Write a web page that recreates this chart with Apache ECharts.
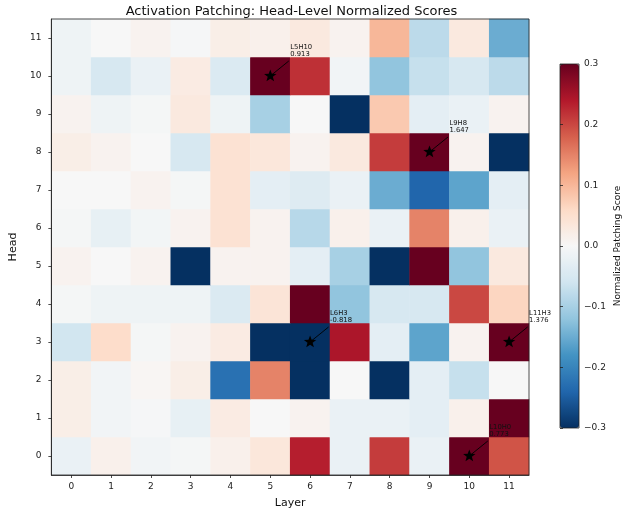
<!DOCTYPE html>
<html>
<head>
<meta charset="utf-8">
<script src="https://cdn.jsdelivr.net/npm/echarts@6/dist/echarts.min.js"></script>
<style>
html,body{margin:0;padding:0;background:#fff;}
#chart{width:628px;height:514px;}
</style>
</head>
<body>
<div id="chart"></div>
<script>
// ---- data ----
var layers = ['0','1','2','3','4','5','6','7','8','9','10','11'];
var heads  = ['0','1','2','3','4','5','6','7','8','9','10','11'];
// scores[head][layer]
var head0  = [-0.02, 0.015, -0.01, -0.005, 0.015, 0.035, 0.235, -0.02, 0.21, -0.02, 0.773, 0.19];
var head1  = [0.02, -0.01, -0.003, -0.025, 0.025, 0.0, 0.01, -0.02, -0.02, -0.03, 0.015, 0.35];
var head2  = [0.02, -0.01, 0.005, 0.02, -0.225, 0.15, -0.35, 0.0, -0.4, -0.03, -0.07, 0.0];
var head3  = [-0.058, 0.055, -0.005, 0.01, 0.025, -0.4, -0.818, 0.245, -0.03, -0.16, 0.01, 1.376];
var head4  = [-0.005, -0.015, -0.015, -0.015, -0.045, 0.04, 0.45, -0.12, -0.05, -0.05, 0.2, 0.065];
var head5  = [0.01, 0.0, 0.01, -0.4, 0.01, 0.01, -0.03, -0.1, -0.35, 0.4, -0.12, 0.03];
var head6  = [-0.005, -0.025, -0.008, 0.01, 0.045, 0.01, -0.085, 0.015, -0.02, 0.15, 0.015, -0.02];
var head7  = [0.0, 0.0, 0.01, -0.005, 0.045, -0.03, -0.04, -0.02, -0.15, -0.24, -0.16, -0.03];
var head8  = [0.02, 0.01, 0.0, -0.05, 0.045, 0.035, 0.01, 0.03, 0.21, 1.647, 0.01, -0.35];
var head9  = [0.01, -0.015, -0.005, 0.03, -0.015, -0.1, 0.0, -0.35, 0.08, -0.03, -0.02, 0.01];
var head10 = [-0.015, -0.05, -0.02, 0.025, -0.045, 0.913, 0.22, -0.01, -0.12, -0.07, -0.05, -0.08];
var head11 = [-0.015, 0.0, 0.01, -0.003, 0.02, 0.015, 0.03, 0.01, 0.1, -0.08, 0.03, -0.15];
var scores = [head0, head1, head2, head3, head4, head5, head6, head7, head8, head9, head10, head11];

// annotated heads
var annLayer = [5, 9, 6, 11, 10];
var annHead  = [10, 8, 3, 3, 0];
var annText  = ['L5H10', 'L9H8', 'L6H3', 'L11H3', 'L10H0'];
var annValue = ['0.913', '1.647', '-0.818', '1.376', '0.773'];

var cbTicks = ['\u22120.3', '\u22120.2', '\u22120.1', '0.0', '0.1', '0.2', '0.3'];
var vMin = -0.3, vMax = 0.3;

// ---- build ----
var heatData = [];
for (var h = 0; h < heads.length; h++) {
  for (var l = 0; l < layers.length; l++) {
    var v = scores[h][l];
    heatData.push([l, h, Math.max(vMin, Math.min(vMax, v)), v]);
  }
}
var annData = annLayer.map(function (l, i) { return [l, annHead[i]]; });

function starPoints(cx, cy, R, r) {
  var pts = [];
  for (var k = 0; k < 10; k++) {
    var ang = -Math.PI / 2 + k * Math.PI / 5;
    var rad = (k % 2 === 0) ? R : r;
    pts.push([cx + rad * Math.cos(ang), cy + rad * Math.sin(ang)]);
  }
  return pts;
}

var FONT = 'DejaVu Sans';
var chart = echarts.init(document.getElementById('chart'), null, {renderer: 'canvas'});
chart.setOption({
  animation: false,
  backgroundColor: '#fff',
  title: {
    text: 'Activation Patching: Head-Level Normalized Scores',
    left: 286.5, top: 0, textAlign: 'center',
    textStyle: {fontFamily: FONT, fontSize: 13, fontWeight: 'normal', color: '#111'}
  },
  grid: [
    {left: 44, top: 19, width: 485, height: 461, show: true, borderColor: '#222', borderWidth: 0.8, backgroundColor: 'transparent', z: 5},
    {left: 560, top: 64, width: 19, height: 364, show: true, borderColor: '#222', borderWidth: 0.8, backgroundColor: 'transparent', z: 10}
  ],
  xAxis: [
    {type: 'category', gridIndex: 0, data: layers, name: 'Layer', nameLocation: 'middle', nameGap: 23,
     nameTextStyle: {fontFamily: FONT, fontSize: 11, color: '#111'},
     axisLine: {show: true, lineStyle: {color: '#222', width: 0.8}},
     axisTick: {show: true, alignWithLabel: true, length: 3, lineStyle: {color: '#222', width: 0.8}},
     axisLabel: {fontFamily: FONT, fontSize: 9, color: '#222', margin: 7},
     splitLine: {show: false}, z: 6},
    {type: 'value', gridIndex: 1, min: 0, max: 1, show: false}
  ],
  yAxis: [
    {type: 'category', gridIndex: 0, data: heads, name: 'Head', nameLocation: 'middle', nameGap: 24, nameRotate: 90,
     nameTextStyle: {fontFamily: FONT, fontSize: 11, color: '#111'},
     axisLine: {show: true, lineStyle: {color: '#222', width: 0.8}},
     axisTick: {show: true, alignWithLabel: true, length: 3, lineStyle: {color: '#222', width: 0.8}},
     axisLabel: {fontFamily: FONT, fontSize: 9, color: '#222', margin: 10},
     splitLine: {show: false}, z: 6},
    {type: 'value', gridIndex: 1, position: 'right', min: vMin, max: vMax, interval: 0.1,
     name: 'Normalized Patching Score', nameLocation: 'middle', nameGap: 34, nameRotate: 90,
     nameTextStyle: {fontFamily: FONT, fontSize: 9, color: '#111'},
     axisLine: {show: false},
     axisTick: {show: true, length: 3, lineStyle: {color: '#222', width: 0.8}},
     axisLabel: {fontFamily: FONT, fontSize: 9, color: '#222', margin: 5,
       formatter: function (v) { return cbTicks[Math.round((v - vMin) / 0.1)]; }},
     splitLine: {show: false}, z: 11}
  ],
  visualMap: {
    type: 'continuous', min: vMin, max: vMax, dimension: 2, seriesIndex: 0,
    orient: 'vertical', left: 560, top: 64, itemWidth: 19, itemHeight: 364,
    padding: 0, calculable: false, showLabel: false, text: null, hoverLink: false,
    inRange: {color: ['#053061','#2166ac','#4393c3','#92c5de','#d1e5f0','#f7f7f7','#fddbc7','#f4a582','#d6604d','#b2182b','#67001f']}
  },
  series: [
    {type: 'heatmap', xAxisIndex: 0, yAxisIndex: 0, data: heatData, itemStyle: {borderWidth: 0}, emphasis: {disabled: true}},
    {type: 'custom', xAxisIndex: 0, yAxisIndex: 0, data: annData, z: 10, silent: true,
     renderItem: function (params, api) {
       var p = api.coord([api.value(0), api.value(1)]);
       var i = params.dataIndex;
       return {type: 'group', children: [
         {type: 'line', z2: 1, shape: {x1: p[0], y1: p[1], x2: p[0] + 18.5, y2: p[1] - 15}, style: {stroke: '#000', lineWidth: 0.9}},
         {type: 'polygon', z2: 2, shape: {points: starPoints(p[0], p[1], 6.5, 2.7)}, style: {fill: '#000'}},
         {type: 'text', z2: 3, x: p[0] + 20, y: p[1] - 18,
          style: {text: annText[i] + '\n' + annValue[i], fontFamily: FONT, fontSize: 6.8, lineHeight: 7.5,
                  fill: '#111', align: 'left', verticalAlign: 'bottom'}}
       ]};
     }}
  ]
});
</script>
</body>
</html>
